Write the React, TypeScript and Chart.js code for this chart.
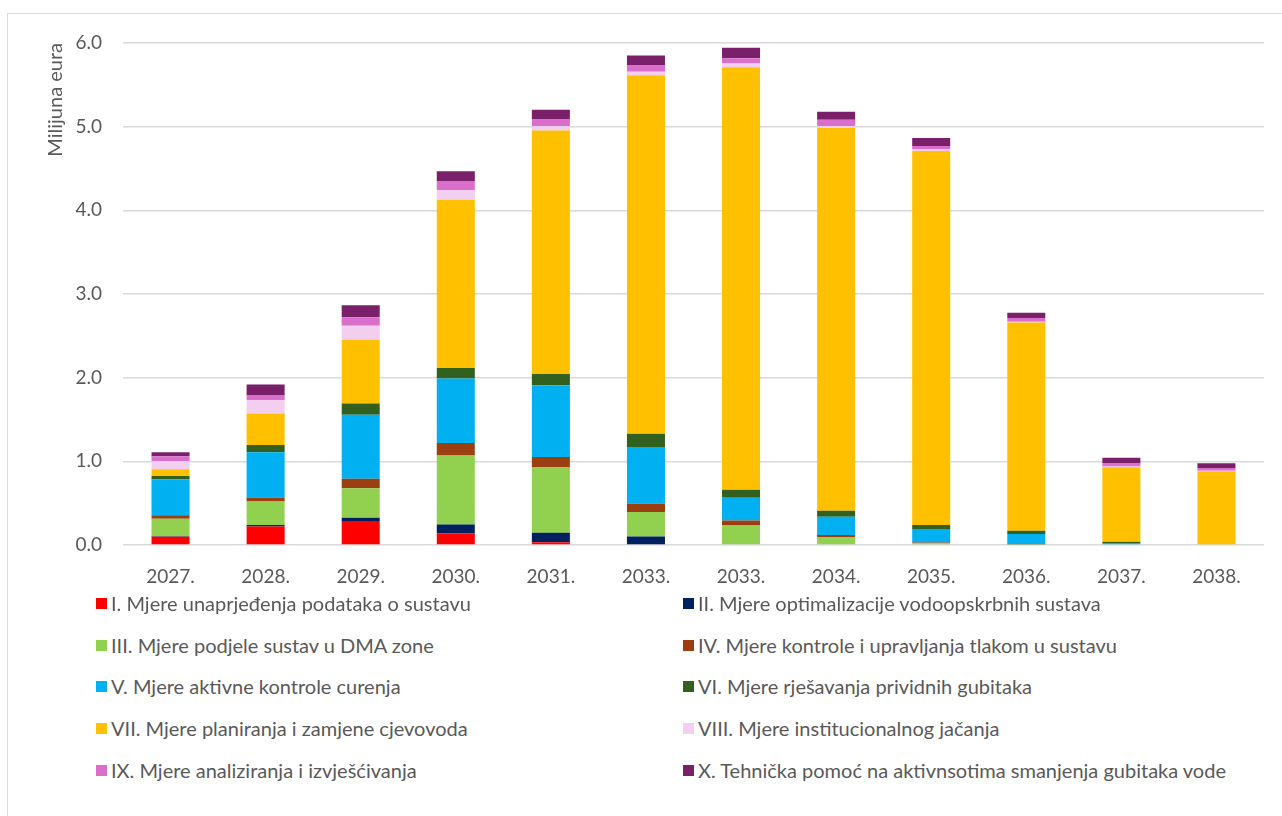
import React, { useEffect, useRef } from "react";
import { Chart, registerables } from "chart.js";

Chart.register(...registerables);

const categories = ["2027.", "2028.", "2029.", "2030.", "2031.", "2033.", "2033.", "2034.", "2035.", "2036.", "2037.", "2038."];

const seriesNames = [
  "I. Mjere unaprjeđenja podataka o sustavu",
  "II. Mjere optimalizacije vodoopskrbnih sustava",
  "III. Mjere podjele sustav u DMA zone",
  "IV. Mjere kontrole i upravljanja tlakom u sustavu",
  "V. Mjere aktivne kontrole curenja",
  "VI. Mjere rješavanja prividnih gubitaka",
  "VII. Mjere planiranja i zamjene cjevovoda",
  "VIII. Mjere institucionalnog jačanja",
  "IX. Mjere analiziranja i izvješćivanja",
  "X. Tehnička pomoć na aktivnsotima smanjenja gubitaka vode",
];

const seriesColors = ["#FF0000", "#002060", "#92D050", "#9B3F10", "#00B0F0", "#31601F", "#FFC000", "#F2CEEF", "#DA6FCB", "#7A206B"];

const mjereI = [0.10, 0.22, 0.287, 0.14, 0.032, 0.01, 0, 0, 0, 0, 0, 0];
const mjereII = [0.005, 0.02, 0.04, 0.104, 0.115, 0.093, 0, 0, 0, 0, 0, 0];
const mjereIII = [0.21, 0.28, 0.35, 0.825, 0.785, 0.29, 0.234, 0.095, 0.02, 0.005, 0, 0];
const mjereIV = [0.04, 0.048, 0.115, 0.15, 0.12, 0.10, 0.06, 0.024, 0.01, 0.005, 0, 0];
const mjereV = [0.43, 0.54, 0.765, 0.77, 0.857, 0.677, 0.27, 0.22, 0.16, 0.12, 0.025, 0];
const mjereVI = [0.04, 0.088, 0.135, 0.127, 0.135, 0.16, 0.097, 0.07, 0.05, 0.04, 0.015, 0];
const mjereVII = [0.08, 0.375, 0.76, 2.01, 2.91, 4.285, 5.05, 4.575, 4.47, 2.49, 0.89, 0.88];
const mjereVIII = [0.10, 0.16, 0.17, 0.115, 0.052, 0.04, 0.044, 0.024, 0.016, 0.008, 0.008, 0.008];
const mjereIX = [0.055, 0.056, 0.10, 0.11, 0.08, 0.077, 0.064, 0.075, 0.044, 0.044, 0.036, 0.032];
const mjereX = [0.05, 0.13, 0.143, 0.115, 0.115, 0.12, 0.125, 0.095, 0.095, 0.064, 0.068, 0.056];

const seriesValues = [mjereI, mjereII, mjereIII, mjereIV, mjereV, mjereVI, mjereVII, mjereVIII, mjereIX, mjereX];

const yAxisTitle = "Milijuna eura";

const TEXT = "#595959";
const FONT = "Lato";

export default function App() {
  const ref = useRef<HTMLCanvasElement>(null);

  useEffect(() => {
    const chart = new Chart(ref.current!, {
      type: "bar",
      data: {
        labels: categories,
        datasets: seriesValues.map((d, i) => ({
          label: seriesNames[i],
          data: d,
          backgroundColor: seriesColors[i],
          borderWidth: 0,
          barPercentage: 0.4,
          categoryPercentage: 1,
        })),
      },
      options: {
        responsive: false,
        animation: false,
        layout: { padding: { top: 43, right: 18, left: 0, bottom: 0 } },
        plugins: { legend: { display: false }, tooltip: { enabled: false } },
        scales: {
          x: {
            stacked: true,
            grid: { display: false },
            border: { display: false },
            ticks: { color: TEXT, font: { family: FONT, size: 19 }, padding: 12, maxRotation: 0, autoSkip: false },
            afterFit: (s: any) => { s.height = 55; },
          },
          y: {
            stacked: true,
            min: 0,
            max: 6,
            ticks: {
              stepSize: 1,
              callback: (v: any) => Number(v).toFixed(1),
              padding: 21,
              color: TEXT,
              font: { family: FONT, size: 19 },
            },
            grid: { color: "#d9d9d9", lineWidth: 1.5, drawTicks: false },
            border: { display: false },
            title: {
              display: true,
              text: yAxisTitle,
              align: "end",
              color: TEXT,
              font: { family: FONT, size: 20 },
              padding: { top: 44, bottom: 0 },
            },
            afterFit: (s: any) => { s.width = 123; },
          },
        },
      },
    } as any);
    return () => chart.destroy();
  }, []);

  const rowY = [603, 645, 686, 728, 770];

  return (
    <div style={{ position: "absolute", left: 0, top: 0, width: 1282, height: 816, overflow: "hidden", background: "#fff" }}>
      <div style={{ position: "absolute", left: 7, top: 13, width: 1300, height: 830, border: "1px solid #d9d9d9" }} />
      <canvas ref={ref} width={1282} height={600} style={{ position: "absolute", left: 0, top: 0, width: 1282, height: 600 }} />
      {seriesNames.map((name, i) => {
        const col = i % 2;
        const row = Math.floor(i / 2);
        return (
          <div
            key={i}
            style={{
              position: "absolute",
              left: col === 0 ? 96 : 683,
              top: rowY[row] - 14,
              height: 28,
              display: "flex",
              alignItems: "center",
              fontFamily: FONT,
              fontSize: 20,
              color: TEXT,
              whiteSpace: "nowrap",
            }}
          >
            <span style={{ display: "inline-block", width: 11, height: 11, background: seriesColors[i], marginRight: 4 }} />
            {name}
          </div>
        );
      })}
    </div>
  );
}
